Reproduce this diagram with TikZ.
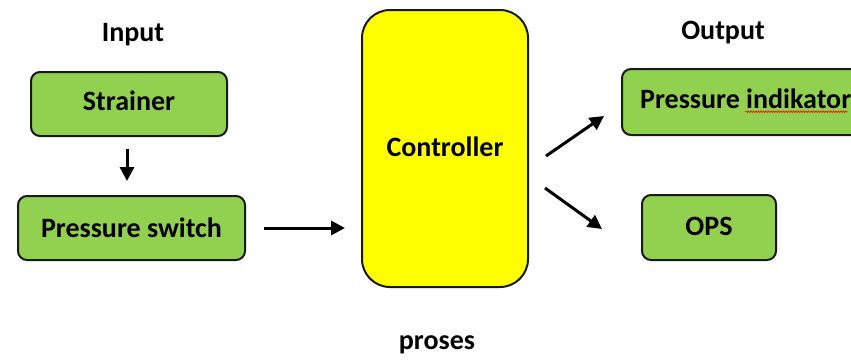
\documentclass[tikz,border=0pt]{standalone}
\usepackage{fontspec}
\setmainfont{Carlito}
\usepackage{tikz}
\usetikzlibrary{calc}
\usetikzlibrary{arrows.meta}
\usetikzlibrary{decorations.pathmorphing}

\definecolor{boxgreen}{HTML}{92D050}
\definecolor{boxyellow}{HTML}{FFFF00}
\tikzset{
	greenbox/.style={draw=black!90,line width=2pt,fill=boxgreen,rounded corners=9pt,
		font=\fontsize{28}{33}\selectfont\bfseries,inner sep=0pt},
	flowarrow/.style={line width=3pt,-{Triangle[length=14pt,width=14pt]}},
	heading/.style={font=\fontsize{28}{33}\selectfont\bfseries,inner sep=0pt}
}

\begin{document}
\begin{tikzpicture}[x=1pt,y=1pt]
			\useasboundingbox (0,0) rectangle (851,360);
			%input side
			\node[heading] (input) at (133,325) {Input};
			\node[greenbox,minimum width=196pt,minimum height=64pt] (strainer) at (129,256) {\raisebox{6pt}{Strainer}};
			\node[greenbox,minimum width=227pt,minimum height=64pt] (pswitch) at (131.5,132) {Pressure switch\hspace{8pt}};
			%controller
			\node[draw=black!90,line width=2pt,fill=boxyellow,rounded corners=28pt,
				minimum width=166pt,minimum height=277pt,inner sep=0pt,
				font=\fontsize{28}{33}\selectfont\bfseries] (ctrl) at (445,211.5) {\raisebox{3pt}{Controller}};
			\node[heading] (proses) at (437,15) {proses};
			%output side
			\node[heading] (output) at (723,327) {Output};
			\node[greenbox,minimum width=248pt,minimum height=66pt] (pind) at (746,258) {};
			\node[heading,anchor=west] (pindtext) at ([xshift=19pt,yshift=3pt]pind.west) {Pressure indikator};
			\draw[red,line width=0.6pt,decoration={zigzag,segment length=2.5pt,amplitude=0.8pt},decorate]
				($(pindtext.base east)+(-106,-3)$)--($(pindtext.base east)+(-4,-3)$);
			\node[greenbox,minimum width=134pt,minimum height=65pt] (ops) at (709,132.5) {\raisebox{3pt}{OPS}\hspace{18pt}};
			%arrows
			\coordinate (ctrlup) at ($(ctrl.east)+(17,-7.5)$);
			\coordinate (ctrldown) at ($(ctrl.east)+(16,-39.5)$);
			\coordinate (pindin) at ($(pind.west)+(-17,-14)$);
			\coordinate (opsin) at ($(ops.west)+(-39,-1.5)$);
			\draw[flowarrow,shorten <=12pt,shorten >=14pt] ([xshift=-2pt]strainer.south)--([xshift=-2pt]strainer.south |- pswitch.north);
			\draw[flowarrow,shorten <=18pt,shorten >=16pt] (pswitch.east)--(pswitch.east -| ctrl.west);
			\draw[flowarrow] (ctrlup)--(pindin);
			\draw[flowarrow] (ctrldown)--(opsin);
		\end{tikzpicture}
\end{document}
